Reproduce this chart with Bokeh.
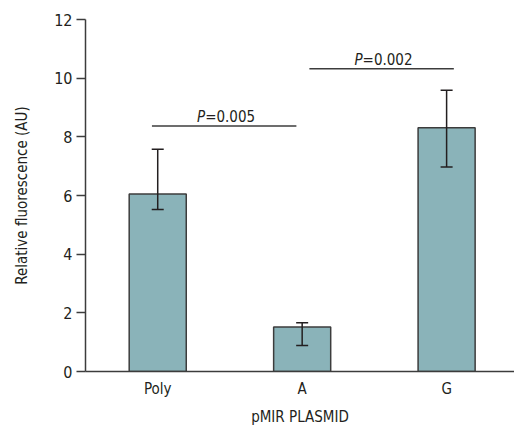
from bokeh.plotting import figure
from bokeh.models import ColumnDataSource, Range1d, FixedTicker, Whisker, TeeHead
from bokeh.core.properties import value
from bokeh.embed import file_html
from bokeh.resources import INLINE

# ---- data ----
categories = ["Poly", "A", "G"]
cat_pos = [0, 1, 2]
means = [6.05, 1.52, 8.31]
err_upper = [7.58, 1.66, 9.59]
err_lower = [5.52, 0.89, 6.97]
y_ticks = [0, 2, 4, 6, 8, 10, 12]

bracket_x0 = [-0.04, 1.05]
bracket_x1 = [0.96, 2.05]
bracket_y = [8.37, 10.32]
p_labels = ["=0.005", "=0.002"]

FONT = "DejaVu Sans Condensed"
TXT = "#231f20"

p = figure(width=514, height=428, output_backend="svg", toolbar_location=None,
           x_range=Range1d(-0.5, 2.47), y_range=Range1d(0, 12),
           min_border_left=85, min_border_right=0, min_border_top=19, min_border_bottom=55)
p.outline_line_color = None
p.grid.grid_line_color = None
p.background_fill_color = "white"

src = ColumnDataSource(dict(x=cat_pos, top=means, upper=err_upper, lower=err_lower))
p.vbar(x="x", top="top", bottom=0, width=0.395, source=src,
       fill_color="#8ab3b9", line_color="#3c3c3c", line_width=1.5)

wh = Whisker(base="x", upper="upper", lower="lower", source=src, level="overlay",
             line_color="#231f20", line_width=1.5,
             upper_head=TeeHead(size=12, line_color="#231f20", line_width=1.5),
             lower_head=TeeHead(size=12, line_color="#231f20", line_width=1.5))
p.add_layout(wh)

# significance brackets
p.segment(x0=bracket_x0, y0=bracket_y, x1=bracket_x1, y1=bracket_y,
          line_color="#3c3c3c", line_width=1.5)
mid = [(a + b) / 2 for a, b in zip(bracket_x0, bracket_x1)]
p.text(x=mid, y=bracket_y, text=["P", "P"], text_align="right", text_baseline="alphabetic",
       x_offset=-19, y_offset=-9, text_font=value(FONT), text_font_style="italic",
       text_font_size="15px", text_color=TXT)
p.text(x=mid, y=bracket_y, text=p_labels, text_align="left", text_baseline="alphabetic",
       x_offset=-19, y_offset=-9, text_font=value(FONT),
       text_font_size="15px", text_color=TXT)

# axes
xa = p.xaxis[0]
xa.ticker = FixedTicker(ticks=cat_pos)
xa.major_label_overrides = {i: c for i, c in zip(cat_pos, categories)}
xa.major_tick_out = 0
xa.major_tick_in = 0
xa.minor_tick_out = 0
xa.minor_tick_in = 0
xa.axis_label = "pMIR PLASMID"
xa.major_label_standoff = 8
xa.axis_label_standoff = 7

ya = p.yaxis[0]
ya.ticker = FixedTicker(ticks=y_ticks)
ya.major_tick_out = 9
ya.major_tick_in = 0
ya.minor_tick_out = 0
ya.minor_tick_in = 0
ya.axis_label = "Relative fluorescence (AU)"
ya.major_label_standoff = 4
ya.axis_label_standoff = 20

for ax in (xa, ya):
    ax.axis_line_color = "#3c3c3c"
    ax.axis_line_width = 1.5
    ax.major_tick_line_color = "#3c3c3c"
    ax.major_tick_line_width = 1.5
    ax.major_label_text_font = FONT
    ax.major_label_text_color = TXT
    ax.axis_label_text_font = FONT
    ax.axis_label_text_font_size = "15px"
    ax.axis_label_text_font_style = "normal"
    ax.axis_label_text_color = TXT
xa.major_label_text_font_size = "15px"
ya.major_label_text_font_size = "16px"

open("out.html", "w").write(file_html(p, INLINE))
